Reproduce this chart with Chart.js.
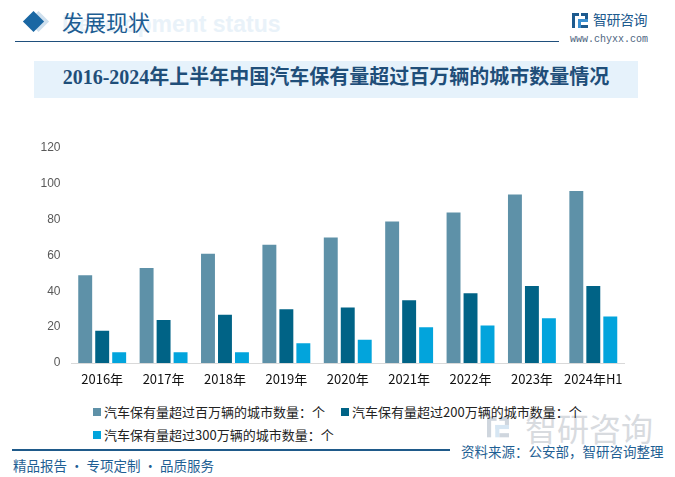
<!DOCTYPE html>
<html>
<head>
<meta charset="utf-8">
<script src="https://cdn.jsdelivr.net/npm/chart.js@4/dist/chart.umd.min.js"></script>
<style>
  body { margin: 0; width: 675px; height: 477px; background: #fff; position: relative; overflow: hidden;
         font-family: "Noto Sans CJK SC", "Noto Sans", sans-serif; }
  .abs { position: absolute; white-space: nowrap; }
  #ghost { left: 62px; top: 11px; font: bold 23px "Liberation Sans", Arial, sans-serif; color: #e9f2f9; }
  #head { left: 62px; top: 5px; font-size: 22px; color: #1d5d92; }
  #diamondBack { left: 31px; top: 14px; width: 15px; height: 15px; background: #cfe0ee; transform: rotate(45deg); }
  #diamond { left: 26px; top: 14px; width: 15px; height: 15px; background: #1a67a3; transform: rotate(45deg); }
  #topline { left: 15px; top: 41px; width: 544px; height: 1px; background: #1f4f7c; }
  #logoTxt { left: 593px; top: 9px; font-size: 14px; color: #1d5a8e; letter-spacing: -0.5px; }
  #www { left: 570px; top: 34px; font: 10px "Liberation Mono", monospace; color: #4d6580; }
  #titleBox { left: 34px; top: 61px; width: 604px; height: 37px; background: #e6f2fb; }
  #title { left: 34px; top: 61px; width: 604px; line-height: 37px; text-align: center;
           font: bold 20px "Liberation Serif", "Noto Sans CJK SC", serif; color: #1f4e79; }
  #chartBox { left: 0; top: 120px; width: 640px; height: 272px; }
  .leg { font-size: 13px; color: #222; }
  .sq { display: inline-block; width: 8px; height: 8px; margin-right: 3px; vertical-align: 1px; }
  #wm { left: 525px; top: 404px; font-size: 32px; color: #d8dbdf; }
  #botline { left: 12px; top: 449px; width: 438px; height: 1.5px; background: #1f5a8a; }
  #source { left: 461px; top: 441px; font-size: 13.5px; color: #1f5f94; }
  #slogan { left: 13px; top: 455px; font-size: 13.5px; color: #1f5f94; }
</style>
</head>
<body>
<div class="abs" id="ghost">Development status</div>
<div class="abs" id="diamondBack"></div>
<div class="abs" id="diamond"></div>
<div class="abs" id="head">发展现状</div>
<div class="abs" id="topline"></div>
<svg class="abs" style="left:572px;top:13px" width="16" height="15" viewBox="0 0 16 15">
  <rect x="0" y="0" width="7" height="3" fill="#1d5a8e"/>
  <rect x="0" y="0" width="3" height="15" fill="#1d5a8e"/>
  <rect x="9" y="0" width="7" height="3" fill="#1d5a8e"/>
  <rect x="13" y="0" width="3" height="8" fill="#1d5a8e"/>
  <rect x="6" y="6" width="10" height="3" fill="#3a8fd0"/>
  <rect x="6" y="6" width="3" height="9" fill="#3a8fd0"/>
  <rect x="9" y="12" width="7" height="3" fill="#1d5a8e"/>
</svg>
<div class="abs" id="logoTxt">智研咨询</div>
<div class="abs" id="www">www.chyxx.com</div>
<div class="abs" id="titleBox"></div>
<div class="abs" id="title">2016-2024年上半年中国汽车保有量超过百万辆的城市数量情况</div>

<svg class="abs" style="left:487px;top:416px" width="22" height="22" viewBox="0 0 16 15">
  <rect x="0" y="0" width="7" height="3" fill="#cfd6de"/>
  <rect x="0" y="0" width="3" height="15" fill="#cfd6de"/>
  <rect x="9" y="0" width="7" height="3" fill="#cfd6de"/>
  <rect x="13" y="0" width="3" height="8" fill="#cfd6de"/>
  <rect x="6" y="6" width="10" height="3" fill="#d6e6f3"/>
  <rect x="6" y="6" width="3" height="9" fill="#d6e6f3"/>
  <rect x="9" y="12" width="7" height="3" fill="#cfd6de"/>
</svg>
<div class="abs" id="wm">智研咨询</div>

<div class="abs" id="chartBox"><canvas id="cityChart" width="640" height="272"></canvas></div>
<div class="abs leg" id="leg0" style="left:93px;top:402px"></div>
<div class="abs leg" id="leg1" style="left:341px;top:402px"></div>
<div class="abs leg" id="leg2" style="left:93px;top:425px"></div>

<div class="abs" id="botline"></div>
<div class="abs" id="source">资料来源：公安部，智研咨询整理</div>
<div class="abs" id="slogan">精品报告 · 专项定制 · 品质服务</div>

<script>
// chart data
var years = ['2016年', '2017年', '2018年', '2019年', '2020年', '2021年', '2022年', '2023年', '2024年H1'];
var over100 = [49, 53, 61, 66, 70, 79, 84, 94, 96];
var over200 = [18, 24, 27, 30, 31, 35, 39, 43, 43];
var over300 = [6, 6, 6, 11, 13, 20, 21, 25, 26];
var seriesNames = ['汽车保有量超过百万辆的城市数量：个', '汽车保有量超过200万辆的城市数量：个', '汽车保有量超过300万辆的城市数量：个'];
var seriesColors = ['#5e91a8', '#006386', '#02a4dc'];
var yTicks = [0, 20, 40, 60, 80, 100, 120];

var ctx = document.getElementById('cityChart').getContext('2d');
var chart = new Chart(ctx, {
    type: 'bar',
    data: {
        labels: years,
        datasets: [over100, over200, over300].map(function (vals, i) {
            return {
                label: seriesNames[i],
                data: vals,
                backgroundColor: seriesColors[i],
                categoryPercentage: 0.83,
                barPercentage: 0.82
            };
        })
    },
    options: {
        responsive: false,
        animation: false,
        layout: { padding: { top: 28, right: 16, left: 0, bottom: 0 } },
        plugins: {
            legend: { display: false },
            tooltip: { enabled: false }
        },
        scales: {
            x: {
                grid: { display: false, drawTicks: false },
                border: { display: true, color: '#d9d9d9', width: 1 },
                ticks: { color: '#111', padding: 8, maxRotation: 0, autoSkip: false,
                         font: { size: 13, family: '"Noto Sans CJK SC", sans-serif' } },
                afterFit: function (scale) { scale.height = 29; }
            },
            y: {
                min: 0,
                max: 120,
                afterBuildTicks: function (scale) {
                    scale.ticks = yTicks.map(function (v) { return { value: v }; });
                },
                grid: { display: false, drawTicks: false },
                border: { display: false },
                ticks: { color: '#595959', padding: 11, font: { size: 12, family: '"Liberation Sans", sans-serif' } },
                afterFit: function (scale) { scale.width = 71.5; }
            }
        }
    }
});

// legend built from the dataset colours and names
seriesNames.forEach(function (name, i) {
    var el = document.getElementById('leg' + i);
    el.innerHTML = '<span class="sq" style="background:' + seriesColors[i] + '"></span>' + name;
});
</script>
</body>
</html>
